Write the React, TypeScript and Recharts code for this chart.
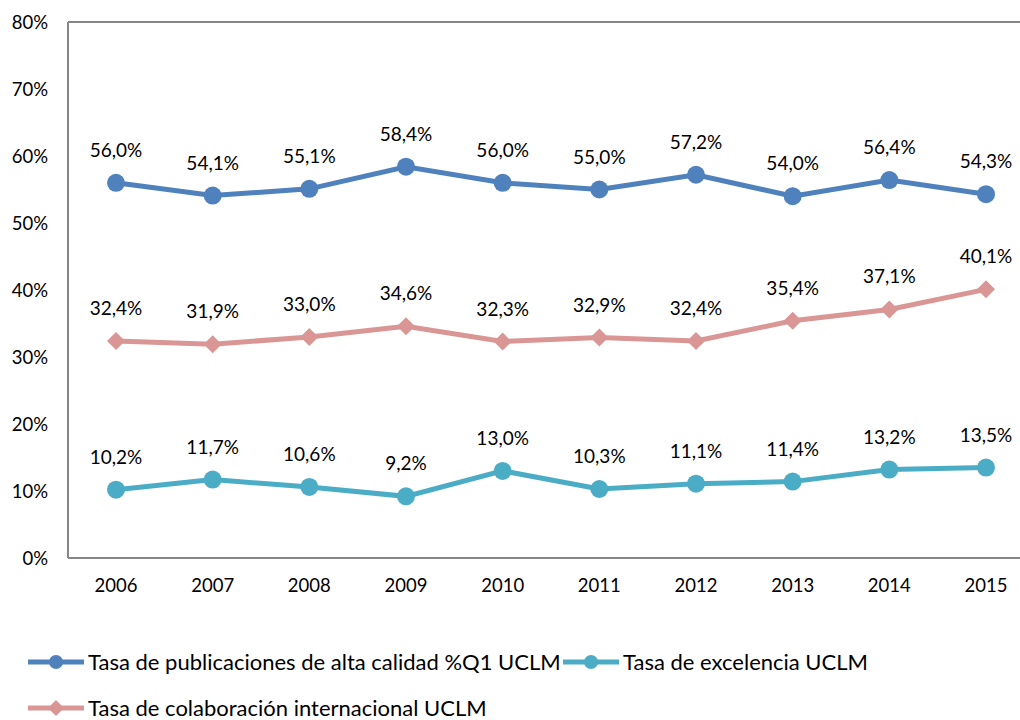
import { LineChart, Line, XAxis, YAxis, LabelList, ReferenceLine } from "recharts";

const years = ["2006", "2007", "2008", "2009", "2010", "2011", "2012", "2013", "2014", "2015"];
const calidadQ1 = [56.0, 54.1, 55.1, 58.4, 56.0, 55.0, 57.2, 54.0, 56.4, 54.3];
const excelencia = [10.2, 11.7, 10.6, 9.2, 13.0, 10.3, 11.1, 11.4, 13.2, 13.5];
const colaboracion = [32.4, 31.9, 33.0, 34.6, 32.3, 32.9, 32.4, 35.4, 37.1, 40.1];
const yTicks = [0, 10, 20, 30, 40, 50, 60, 70, 80];

const rows = years.map((year, i) => ({
  year,
  q1: calidadQ1[i],
  exc: excelencia[i],
  colab: colaboracion[i],
}));

const FONT = "Lato, 'Open Sans', sans-serif";
const BLUE = "#4f81bd";
const TEAL = "#4bacc6";
const PINK = "#d99694";
const GRID = "#868686";

const fmt = (v: number) => v.toFixed(1).replace(".", ",") + "%";

const Diamond = (props: any) => {
  const { cx, cy } = props;
  if (cx == null || cy == null) return null;
  const r = 9;
  return (
    <path
      d={`M${cx},${cy - r}L${cx + r},${cy}L${cx},${cy + r}L${cx - r},${cy}Z`}
      fill={PINK}
    />
  );
};

const labelStyle = { fontSize: 19, fill: "#000", fontFamily: FONT };
const tickStyle = { fontSize: 18.5, fill: "#000", fontFamily: FONT };

const LegendIcon = ({ color, diamond }: { color: string; diamond?: boolean }) => (
  <svg width={56} height={20} style={{ display: "block" }}>
    <line x1={0} y1={10} x2={56} y2={10} stroke={color} strokeWidth={5} />
    {diamond ? (
      <path d="M28,2L36,10L28,18L20,10Z" fill={color} />
    ) : (
      <circle cx={28} cy={10} r={7} fill={color} />
    )}
  </svg>
);

const legendText = { fontSize: 22, lineHeight: "24px", color: "#000", marginLeft: 4, whiteSpace: "nowrap" as const };

export default function App() {
  return (
    <div style={{ position: "absolute", left: 0, top: 0, width: 1020, height: 720, overflow: "hidden", background: "#fff", fontFamily: FONT }}>
      <LineChart width={1034} height={600} data={rows} margin={{ top: 22, right: 0, left: 8, bottom: 0 }}>
        <XAxis
          dataKey="year"
          padding={{ left: 48, right: 48 }}
          axisLine={{ stroke: GRID, strokeWidth: 2 }}
          tickLine={false}
          tickSize={0}
          tickMargin={21}
          height={42}
          tick={tickStyle}
          interval={0}
        />
        <YAxis
          domain={[0, 80]}
          ticks={yTicks}
          width={60}
          axisLine={{ stroke: GRID, strokeWidth: 2 }}
          tickLine={false}
          tickSize={0}
          tickMargin={20}
          tickFormatter={(v: number) => `${v}%`}
          tick={tickStyle}
        />
        <ReferenceLine y={80} stroke={GRID} strokeWidth={2} />
        <Line
          dataKey="q1"
          stroke={BLUE}
          strokeWidth={5}
          dot={{ r: 9, fill: BLUE, stroke: BLUE, strokeWidth: 0 }}
          isAnimationActive={false}
        >
          <LabelList dataKey="q1" position="top" offset={26} formatter={(v: any) => fmt(Number(v))} style={labelStyle} />
        </Line>
        <Line
          dataKey="colab"
          stroke={PINK}
          strokeWidth={5}
          dot={<Diamond />}
          isAnimationActive={false}
        >
          <LabelList dataKey="colab" position="top" offset={26} formatter={(v: any) => fmt(Number(v))} style={labelStyle} />
        </Line>
        <Line
          dataKey="exc"
          stroke={TEAL}
          strokeWidth={5}
          dot={{ r: 9, fill: TEAL, stroke: TEAL, strokeWidth: 0 }}
          isAnimationActive={false}
        >
          <LabelList dataKey="exc" position="top" offset={26} formatter={(v: any) => fmt(Number(v))} style={labelStyle} />
        </Line>
      </LineChart>
      <div style={{ position: "absolute", left: 28, top: 650, display: "flex", alignItems: "center" }}>
        <LegendIcon color={BLUE} />
        <span style={legendText}>Tasa de publicaciones de alta calidad %Q1 UCLM</span>
      </div>
      <div style={{ position: "absolute", left: 563, top: 650, display: "flex", alignItems: "center" }}>
        <LegendIcon color={TEAL} />
        <span style={legendText}>Tasa de excelencia UCLM</span>
      </div>
      <div style={{ position: "absolute", left: 28, top: 696, display: "flex", alignItems: "center" }}>
        <LegendIcon color={PINK} diamond />
        <span style={legendText}>Tasa de colaboración internacional UCLM</span>
      </div>
    </div>
  );
}
